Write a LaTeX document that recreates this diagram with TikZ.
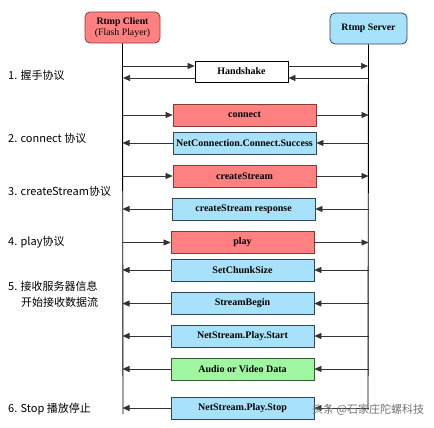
\documentclass[tikz,border=0pt]{standalone}
\usepackage{fontspec}
\setmainfont{Liberation Serif}
\newfontfamily\cjk{Noto Sans CJK SC}
\usetikzlibrary{arrows.meta}
\definecolor{redfill}{HTML}{FF8080}
\definecolor{redline}{HTML}{8B3A3A}
\definecolor{bluefill}{HTML}{A8E2FA}
\definecolor{blueline}{HTML}{2F4560}
\definecolor{greenfill}{HTML}{A0F5A0}
\definecolor{greenline}{HTML}{2F5F2F}
\tikzset{
  actor/.style={draw, rounded corners=5pt, minimum width=75pt, minimum height=31pt, inner sep=0pt, align=center, font=\fontsize{9.8}{11}\selectfont, line width=0.8pt},
  msg/.style={draw, minimum width=143pt, minimum height=22pt, inner sep=0pt, font=\bfseries\fontsize{10}{12}\selectfont, line width=0.7pt},
  redmsg/.style={msg, fill=redfill, draw=redline},
  bluemsg/.style={msg, fill=bluefill, draw=blueline},
  greenmsg/.style={msg, fill=greenfill, draw=greenline},
  life/.style={line width=0.9pt, black},
  arr/.style={-{Triangle[length=7pt,width=6pt]}, line width=0.6pt, black!80},
  lbl/.style={anchor=west, inner sep=0pt, font=\cjk\fontsize{11}{13}\selectfont},
}
\begin{document}
\begin{tikzpicture}[x=1pt,y=-1pt]
\useasboundingbox (0,0) rectangle (434,428);
% actors
\node[actor, fill=redfill, draw=redline] (client) at (122.5,27.5) {\textbf{Rtmp Client}\\(Flash Player)};
\node[actor, fill=bluefill, draw=blueline, minimum width=77pt] (server) at (368.5,28.5) {\textbf{Rtmp Server}};
% lifelines
\coordinate (cb) at (123,414);
\coordinate (sb) at (368,410);
\draw[life] (client.south) -- (cb);
\draw[life] (server.south) -- (sb);
% handshake
\node[msg, fill=white, draw=black, minimum width=93pt, minimum height=21pt] (hs) at (241.5,71.5) {Handshake};
\coordinate (c1) at (123,66); \coordinate (s1) at (368,66);
\coordinate (c2) at (123,78); \coordinate (s2) at (368,78);
\draw[arr] (c1) -- (c1 -| hs.west);
\draw[arr] (s1 -| hs.east) -- (s1);
\draw[arr] (s2) -- (s2 -| hs.east);
\draw[arr] (c2 -| hs.west) -- (c2);
% messages
\node[redmsg] (m1) at (244.5,115) {connect};
\node[bluemsg] (m2) at (244.5,143) {NetConnection.Connect.Success};
\node[redmsg] (m3) at (244.5,176) {createStream};
\node[bluemsg] (m4) at (243.5,209) {createStream response};
\node[redmsg] (m5) at (242.5,242.5) {play};
\node[bluemsg] (m6) at (242.5,270) {SetChunkSize};
\node[bluemsg] (m7) at (242.5,303.5) {StreamBegin};
\node[bluemsg] (m8) at (242.5,336) {NetStream.Play.Start};
\node[greenmsg] (m9) at (242.5,369) {Audio or Video Data};
\node[bluemsg] (m10) at (242.5,408) {NetStream.Play.Stop};
% client -> server
\foreach \m in {m1,m3,m5}{
  \draw[arr] (\m.west -| client) -- (\m.west);
  \draw[arr] (\m.east) -- (\m.east -| server);
}
% server -> client
\foreach \m in {m2,m4,m6,m7,m8,m9,m10}{
  \draw[arr] (\m.east -| server) -- (\m.east);
  \draw[arr] (\m.west) -- (\m.west -| client);
}
% step labels
\node[lbl] (l1) at (8,75) {1. 握手协议};
\node[lbl] (l2) at (8,138) {2. connect 协议};
\node[lbl] (l3) at (8,191) {3. createStream协议};
\node[lbl] (l4) at (8,242) {4. play协议};
\node[lbl] (l5) at (8,286) {5. 接收服务器信息};
\node[lbl] (l5b) at (21,302) {开始接收数据流};
\node[lbl] (l6) at (8,409) {6. Stop 播放停止};
% watermark
\node[anchor=west, inner sep=0pt, text=black!55, font=\cjk\fontsize{11}{13}\selectfont] (wm) at (312,410) {头条 @石家庄陀螺科技};
\end{tikzpicture}
\end{document}
